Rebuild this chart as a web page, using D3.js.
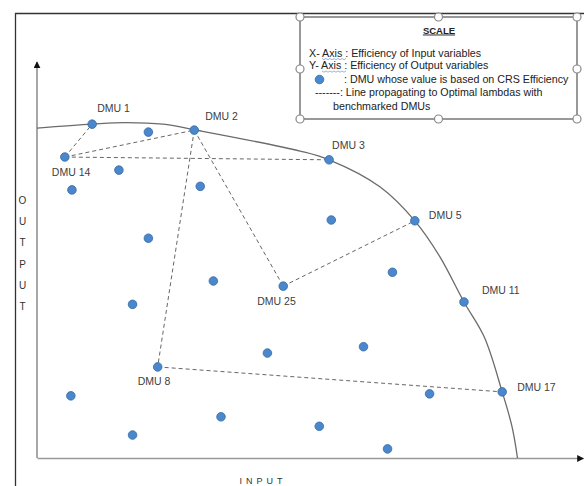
<!DOCTYPE html>
<html>
<head>
<meta charset="utf-8">
<script src="https://cdn.jsdelivr.net/npm/d3@7"></script>
<style>
  html, body { margin: 0; padding: 0; background: #fff; }
  svg { display: block; font-family: "Liberation Sans", Arial, sans-serif; }
</style>
</head>
<body>
<svg id="chart" width="584" height="486"></svg>
<script>
// ---------- DATA (efficiency scale 0..100) ----------
const dmuNames = ["DMU 1","","DMU 2","DMU 14","","","","","","DMU 25","DMU 3","","DMU 5","","DMU 11",
                  "","","","DMU 8","","DMU 17","","","","",""];
const inputEff  = [10.1, 20.4, 28.8, 5.1, 15.0, 6.4, 29.9, 20.4, 32.3, 45.1, 53.5, 53.9, 69.2, 65.1, 78.2,
                   17.5, 42.2, 59.8, 22.1, 71.9, 85.2, 6.2, 33.7, 17.5, 51.7, 64.2];
const outputEff = [84.3, 82.3, 82.8, 76.0, 72.7, 67.7, 68.6, 55.5, 44.7, 43.4, 75.3, 60.1, 59.9, 46.9, 39.4,
                   38.8, 26.5, 28.1, 23.0, 16.2, 16.7, 15.7, 10.4, 5.8, 8.0, 2.3];

// Efficiency frontier (input, output)
const frontierX = [0, 10.1, 16.1, 23.1, 28.8, 48.2, 53.5, 62.8, 69.2, 73.8, 78.2, 81.9, 85.2, 87.0, 88.0];
const frontierY = [83.3, 84.3, 84.7, 84.3, 82.9, 77.5, 75.3, 68.5, 59.9, 50.8, 39.4, 30.6, 16.7, 7.9, 0];

// Benchmark links (optimal lambdas)
const links = [["DMU 14","DMU 1"],["DMU 14","DMU 2"],["DMU 14","DMU 3"],["DMU 2","DMU 8"],
               ["DMU 2","DMU 25"],["DMU 25","DMU 5"],["DMU 8","DMU 17"]];

const legendTitle = "SCALE";
const legendLines = ["X- Axis : Efficiency of Input variables",
                     "Y- Axis : Efficiency of Output variables",
                     ": DMU whose value is based on CRS Efficiency",
                     "-------: Line propagating to Optimal lambdas with",
                     "benchmarked DMUs"];
const xTitle = "INPUT";
const yTitle = "OUTPUT";

// ---------- LAYOUT / STYLE ----------
const labelOffset = {
  "DMU 1": [5, -12], "DMU 2": [11, -10], "DMU 14": [-13, 19], "DMU 3": [3, -11],
  "DMU 5": [14, -2], "DMU 11": [18, -8], "DMU 25": [-26, 19], "DMU 8": [-20, 18], "DMU 17": [15, -1]
};
const dotFill = "#4a87cc", dotStroke = "#356aa3";

const svg = d3.select("#chart");
const x = d3.scaleLinear().domain([0, 100]).range([37, 583]);
const y = d3.scaleLinear().domain([0, 100]).range([458, 62]);

const defs = svg.append("defs");
defs.append("marker").attr("id", "arrow").attr("viewBox", "0 0 10 10")
  .attr("refX", 9).attr("refY", 5).attr("markerWidth", 7).attr("markerHeight", 7)
  .attr("markerUnits", "userSpaceOnUse").attr("orient", "auto")
  .append("path").attr("d", "M0,0 L10,5 L0,10 Z").attr("fill", "#111");

// page frame
svg.append("line").attr("x1", 15.5).attr("y1", 13).attr("x2", 15.5).attr("y2", 486)
  .attr("stroke", "#333").attr("stroke-width", 1.3);
svg.append("line").attr("x1", 15).attr("y1", 13.5).attr("x2", 584).attr("y2", 13.5)
  .attr("stroke", "#333").attr("stroke-width", 1.3);

// axes (no ticks) via d3 axes
const gx = svg.append("g").attr("transform", `translate(0,${y(0)})`)
  .call(d3.axisBottom(x).tickValues([]).tickSizeOuter(0));
gx.select(".domain").attr("stroke", "#999").attr("stroke-width", 1.5).attr("marker-end", "url(#arrow)");
const gy = svg.append("g").attr("transform", `translate(${x(0)},0)`)
  .call(d3.axisLeft(y).tickValues([]).tickSizeOuter(0));
gy.select(".domain").attr("stroke", "#777").attr("stroke-width", 1.3)
  .attr("d", `M0,${y(0)}V${y(100)}`).attr("marker-end", "url(#arrow)");

// frontier
const frontier = frontierX.map((v, i) => [v, frontierY[i]]);
svg.append("path").datum(frontier)
  .attr("d", d3.line().x(d => x(d[0])).y(d => y(d[1])).curve(d3.curveCatmullRom.alpha(0.5)))
  .attr("fill", "none").attr("stroke", "#6b6b6b").attr("stroke-width", 1.3);

// links
const idx = name => dmuNames.indexOf(name);
svg.append("g").selectAll("line").data(links).join("line")
  .attr("x1", d => x(inputEff[idx(d[0])])).attr("y1", d => y(outputEff[idx(d[0])]))
  .attr("x2", d => x(inputEff[idx(d[1])])).attr("y2", d => y(outputEff[idx(d[1])]))
  .attr("stroke", "#666").attr("stroke-width", 1).attr("stroke-dasharray", "4,3");

// points
svg.append("g").selectAll("circle").data(inputEff).join("circle")
  .attr("cx", (d) => x(d)).attr("cy", (d, i) => y(outputEff[i])).attr("r", 4.3)
  .attr("fill", dotFill).attr("stroke", dotStroke).attr("stroke-width", 0.8);

// labels
svg.append("g").selectAll("text").data(dmuNames.map((n, i) => ({n, i})).filter(d => d.n))
  .join("text")
  .attr("x", d => x(inputEff[d.i]) + labelOffset[d.n][0])
  .attr("y", d => y(outputEff[d.i]) + labelOffset[d.n][1])
  .attr("font-size", 10.5).attr("fill", "#404040").text(d => d.n);

// axis titles
svg.append("g").selectAll("text").data(yTitle.split("")).join("text")
  .attr("x", 22.5).attr("y", (d, i) => 204 + i * 21.2)
  .attr("text-anchor", "middle").attr("font-size", 10).attr("fill", "#333").text(d => d);
svg.append("text").attr("x", 263).attr("y", 484).attr("text-anchor", "middle")
  .attr("font-size", 9).attr("letter-spacing", 4).attr("fill", "#333").text(xTitle);

// ---------- LEGEND ----------
const L = {x0: 300, y0: 17, x1: 577, y1: 119};
const lg = svg.append("g");
lg.append("rect").attr("x", L.x0).attr("y", L.y0).attr("width", L.x1 - L.x0).attr("height", L.y1 - L.y0)
  .attr("fill", "#fff").attr("stroke", "#777").attr("stroke-width", 1.5);
const mx = (L.x0 + L.x1) / 2, my = (L.y0 + L.y1) / 2 + 1;
const handles = [[L.x0, L.y0], [mx, L.y0], [L.x1, L.y0], [L.x0, my], [L.x1, my], [L.x0, L.y1], [mx, L.y1], [L.x1, L.y1]];
lg.selectAll("circle.h").data(handles).join("circle").attr("class", "h")
  .attr("cx", d => d[0]).attr("cy", d => d[1]).attr("r", 4)
  .attr("fill", "#fff").attr("stroke", "#888").attr("stroke-width", 1.2);

lg.append("text").attr("x", 439).attr("y", 33.5).attr("text-anchor", "middle")
  .attr("font-size", 9.5).attr("font-weight", "bold").attr("fill", "#222")
  .attr("text-decoration", "underline").text(legendTitle);

const lx = [309, 309, 344, 315, 333];
const ly = [56.5, 69, 83, 95.5, 109.5];
lg.selectAll("text.l").data(legendLines).join("text").attr("class", "l")
  .attr("x", (d, i) => lx[i]).attr("y", (d, i) => ly[i])
  .attr("font-size", 10.7).attr("fill", "#222").text(d => d);
lg.append("circle").attr("cx", 319.5).attr("cy", 79.5).attr("r", 4.3)
  .attr("fill", dotFill).attr("stroke", dotStroke).attr("stroke-width", 0.8);
// spell-check squiggles under "Axis"
[58.5, 71].forEach(yy => {
  let d = `M322,${yy}`;
  for (let k = 0; k < 12; k++) d += ` l2,${k % 2 ? -1.2 : 1.2}`;
  lg.append("path").attr("d", d).attr("fill", "none").attr("stroke", "#6f93d6").attr("stroke-width", 0.7);
});
</script>
</body>
</html>
